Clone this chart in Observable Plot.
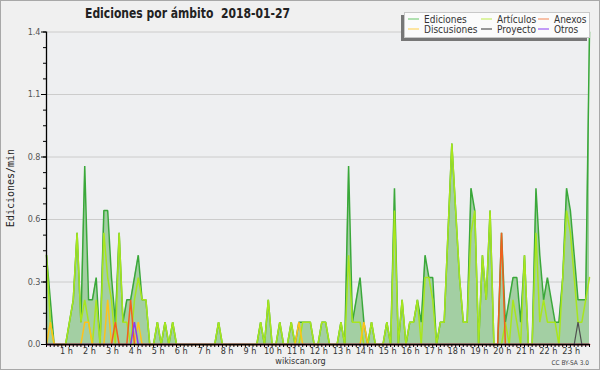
<!DOCTYPE html>
<html><head><meta charset="utf-8">
<script src="https://cdn.jsdelivr.net/npm/d3@7"></script>
<script src="https://cdn.jsdelivr.net/npm/@observablehq/plot@0.6"></script>
<style>
html,body{margin:0;padding:0;background:#f0f0f0;}
#chart{width:600px;height:370px;}
</style></head><body><div id="chart"></div>
<script>
// 10-minute bins of 2018-01-27 (index 0 = 00:00)
const bins = d3.range(143);

const ediciones = [
 0.4,0.2,0,0,0,0,0.1,0.2,0.5,0.1,
 0.8,0.2,0.2,0.3,0,0.6,0.6,0.3,0.1,0.5,
 0.1,0.2,0.2,0.3,0.4,0.2,0.2,0,0,0.1,
 0,0.1,0,0.1,0,0,0,0,0,0,
 0,0,0,0,0,0.1,0,0,0,0,
 0,0,0,0,0,0,0.1,0,0.2,0,
 0,0.1,0,0,0.1,0,0.1,0.1,0.1,0.1,
 0,0,0.1,0.1,0,0,0,0.1,0,0.8,
 0.1,0.2,0.3,0.1,0,0.1,0,0,0,0.1,
 0,0.7,0,0.2,0,0.1,0.1,0.2,0.1,0.4,
 0.3,0.3,0,0.1,0.1,0.5,0.9,0.6,0.3,0.1,
 0.1,0.7,0.6,0,0.4,0.2,0.6,0,0,0.5,
 0.1,0.2,0.3,0.3,0.1,0.4,0,0,0.7,0.4,
 0.2,0.3,0.2,0.1,0.1,0.3,0.7,0.6,0.4,0.2,
 0.2,0.2,1.4];

const articulos = [
 0.4,0.1,0,0,0,0,0.1,0.2,0.5,0.1,
 0.2,0.1,0,0.2,0,0.5,0.3,0.2,0,0.5,
 0.1,0.1,0,0.2,0.3,0.2,0.2,0,0,0.1,
 0,0.1,0,0.1,0,0,0,0,0,0,
 0,0,0,0,0,0.1,0,0,0,0,
 0,0,0,0,0,0,0.1,0,0.2,0,
 0,0.1,0,0,0.1,0,0,0.1,0.1,0.1,
 0,0,0.1,0.1,0,0,0,0.1,0,0.4,
 0.1,0.1,0.1,0,0,0.1,0,0,0,0.1,
 0,0.6,0,0.2,0,0.1,0.1,0.2,0,0.3,
 0.3,0.2,0,0.1,0.1,0.5,0.9,0.6,0.3,0.1,
 0.1,0.5,0.6,0,0.4,0.2,0.6,0,0,0,
 0.1,0,0.2,0.1,0,0.4,0,0,0.5,0.1,
 0.2,0.1,0.1,0.1,0,0.3,0.6,0.5,0.3,0.1,
 0.1,0.2,0.3];

const anexos = [
 0,0,0,0,0,0,0,0,0,0,
 0,0,0,0,0,0,0,0,0.1,0,
 0,0,0.2,0,0,0,0,0,0,0,
 0,0,0,0,0,0,0,0,0,0,
 0,0,0,0,0,0,0,0,0,0,
 0,0,0,0,0,0,0,0,0,0,
 0,0,0,0,0,0,0,0,0,0,
 0,0,0,0,0,0,0,0,0,0,
 0,0,0,0,0,0,0,0,0,0,
 0,0,0,0,0,0,0,0,0,0,
 0,0,0,0,0,0,0,0,0,0,
 0,0,0,0,0,0,0,0,0,0.5,
 0,0,0,0,0,0,0,0,0,0,
 0,0,0,0,0,0,0,0,0,0,
 0,0,0];

const discusiones = [
 0,0.1,0,0,0,0,0,0,0,0,
 0.1,0.1,0,0,0,0,0.2,0,0,0,
 0,0,0,0,0.1,0,0,0,0,0,
 0,0,0,0,0,0,0,0,0,0,
 0,0,0,0,0,0,0,0,0,0,
 0,0,0,0,0,0,0,0,0,0,
 0,0,0,0,0,0,0.1,0,0,0,
 0,0,0,0,0,0,0,0,0,0,
 0,0,0,0.1,0,0,0,0,0,0,
 0,0,0,0,0,0,0,0,0,0,
 0,0,0,0,0,0,0,0,0,0,
 0,0,0,0,0,0,0,0,0,0,
 0,0,0,0,0,0,0,0,0,0,
 0,0,0,0,0,0,0,0,0,0,
 0,0,0];

const proyecto = [
 0,0,0,0,0,0,0,0,0,0,
 0,0,0,0,0,0,0,0,0,0,
 0,0,0,0,0,0,0,0,0,0,
 0,0,0,0,0,0,0,0,0,0,
 0,0,0,0,0,0,0,0,0,0,
 0,0,0,0,0,0,0,0,0,0,
 0,0,0,0,0,0,0,0,0,0,
 0,0,0,0,0,0,0,0,0,0,
 0,0,0,0,0,0,0,0,0,0,
 0,0,0,0,0,0,0,0,0,0,
 0,0,0,0,0,0,0,0,0,0,
 0,0,0,0,0,0,0,0,0,0,
 0,0,0,0,0,0,0,0,0,0,
 0,0,0,0,0,0,0,0,0,0.1,
 0,0,0];

const otros = [
 0,0,0,0,0,0,0,0,0,0,
 0,0,0,0,0,0,0,0,0,0,
 0,0,0,0.1,0,0,0,0,0,0,
 0,0,0,0,0,0,0,0,0,0,
 0,0,0,0,0,0,0,0,0,0,
 0,0,0,0,0,0,0,0,0,0,
 0,0,0,0,0,0,0,0,0,0,
 0,0,0,0,0,0,0,0,0,0,
 0,0,0,0,0,0,0,0,0,0,
 0,0,0,0,0,0,0,0,0,0,
 0,0,0,0,0,0,0,0,0,0,
 0,0,0,0,0,0,0,0,0,0,
 0,0,0,0,0,0,0,0,0,0,
 0,0,0,0,0,0,0,0,0,0,
 0,0,0];

const hourLabels = ["1 h","2 h","3 h","4 h","5 h","6 h","7 h","8 h","9 h","10 h","11 h","12 h",
  "13 h","14 h","15 h","16 h","17 h","18 h","19 h","20 h","21 h","22 h","23 h"];
const hourBins = hourLabels.map((_, k) => (k + 1) * 6);
const yTicks = [0, 0.28, 0.56, 0.84, 1.12, 1.4];
const yMinor = d3.range(0, 1.4001, 0.07);

const seriesNames = ["Ediciones","Artículos","Anexos","Discusiones","Proyecto","Otros"];
const seriesColors = ["#3aa83a","#a8e61d","#f2601f","#ffc21a","#505050","#8a3cf0"];
const legendColors = ["#7fcf7f","#c9ef6a","#f59a70","#ffd766","#555555","#9d5cf5"];

const FONT = '"DejaVu Sans Condensed", "DejaVu Sans", sans-serif';

const table = bins.map(i => ({i, ed: ediciones[i], art: articulos[i], anx: anexos[i],
  dis: discusiones[i], pro: proyecto[i], otr: otros[i]}));

const lineOrder = [["ed",0],["art",1],["dis",3],["anx",2],["pro",4],["otr",5]];

const chart = Plot.plot({
  width: 600, height: 370,
  marginLeft: 46, marginRight: 11, marginTop: 31.5, marginBottom: 26,
  style: {background: "transparent", fontFamily: FONT, fontSize: "9px", color: "#333", overflow: "visible"},
  x: {domain: [0, 142], axis: null},
  y: {domain: [0, 1.4], axis: null},
  marks: [
    Plot.frame({fill: "#eeeff1", stroke: null}),
    Plot.gridY(yTicks.slice(1), {stroke: "#cccccc", strokeOpacity: 1, strokeWidth: 1}),
    Plot.areaY(table, {x: "i", y: "ed", fill: "#a3cfa3"}),
    ...lineOrder.map(([k, c]) => Plot.lineY(table, {x: "i", y: k, stroke: seriesColors[c],
      strokeWidth: k === "pro" ? 1.2 : 1.5, strokeLinejoin: "miter"})),
    Plot.axisY(yMinor, {tickSize: 3, fill: "none", stroke: "#000", label: null}),
    Plot.axisY(yTicks, {tickSize: 5, fill: "none", stroke: "#000", label: null}),
    Plot.text(yTicks, {y: d => d, frameAnchor: "left", dx: -6, textAnchor: "end",
      text: d => d.toFixed(1), fill: "#555"}),
    Plot.axisX(bins, {tickSize: 3, fill: "none", stroke: "#000", label: null}),
    Plot.text(hourBins, {x: d => d, frameAnchor: "bottom", dy: 7, dx: -3, lineAnchor: "middle",
      text: (d, i) => hourLabels[i], fill: "#333"}),
    Plot.ruleY([0], {stroke: "#000", strokeWidth: 1.3}),
    Plot.ruleX([0], {stroke: "#000", strokeWidth: 1.3})
  ]
});

const svg = d3.select(chart);
svg.insert("rect", ":first-child").attr("x", 0.5).attr("y", 0.5).attr("width", 599).attr("height", 369)
  .attr("fill", "#f0f0f0").attr("stroke", "#a8a8a8");

// title
svg.append("text").attr("x", 85).attr("y", 18.3).attr("text-anchor", "start")
  .attr("font-weight", "bold").attr("font-size", 14)
  .attr("fill", "#222").style("white-space", "pre").attr("textLength", 205).attr("lengthAdjust", "spacingAndGlyphs")
  .text("Ediciones por ámbito  2018-01-27");

// y label
svg.append("text").attr("transform", "translate(13.5,188) rotate(-90)").attr("text-anchor", "middle")
  .attr("font-family", '"DejaVu Sans Mono", monospace').attr("font-size", 10).attr("fill", "#222")
  .text("Ediciones/min");

// footer
svg.append("text").attr("x", 300.5).attr("y", 364).attr("text-anchor", "middle").attr("font-size", 9)
  .attr("fill", "#333").text("wikiscan.org");
svg.append("text").attr("x", 589).attr("y", 364.5).attr("text-anchor", "end").attr("font-size", 6.5)
  .attr("fill", "#444").text("CC BY-SA 3.0");

// legend
const lg = svg.append("g");
lg.append("rect").attr("x", 401).attr("y", 15).attr("width", 186).attr("height", 26).attr("fill", "#777");
lg.append("rect").attr("x", 404.5).attr("y", 12.5).attr("width", 185).attr("height", 25)
  .attr("fill", "#fbfbfb").attr("stroke", "#c8c8c8");
const legendCols = [408, 481, 538];
const legendRows = [19, 29];
seriesNames.forEach((name, k) => {
  const cx = legendCols[k % 3], cy = legendRows[Math.floor(k / 3)];
  lg.append("line").attr("x1", cx).attr("x2", cx + 11).attr("y1", cy).attr("y2", cy)
    .attr("stroke", legendColors[k]).attr("stroke-width", 1.2);
  lg.append("text").attr("x", cx + 16).attr("y", cy + 3.5).attr("text-anchor", "start")
    .attr("font-size", 10).attr("fill", "#333").text(name);
});

document.getElementById("chart").appendChild(chart);
</script>
</body></html>
